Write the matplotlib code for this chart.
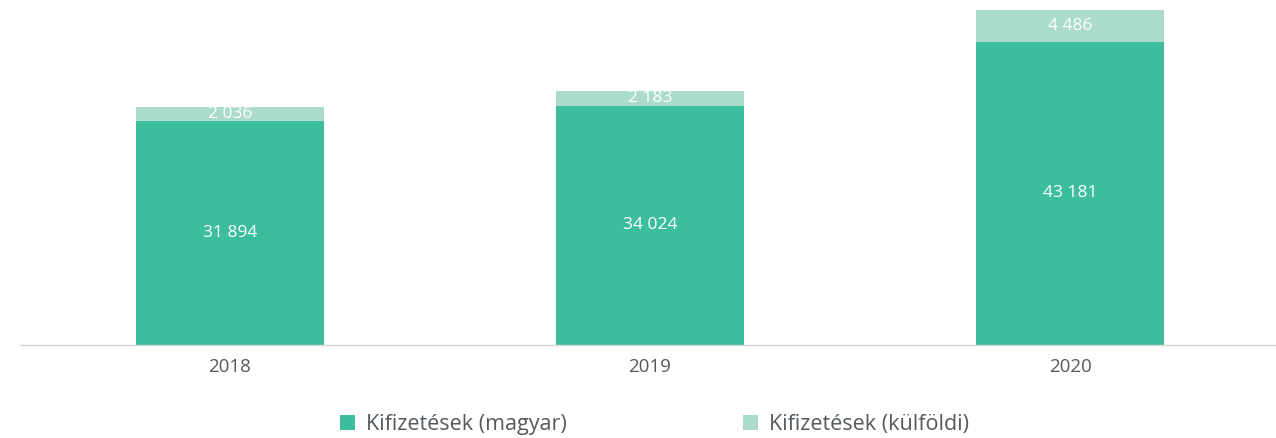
import numpy as np
import matplotlib.pyplot as plt

years = ["2018", "2019", "2020"]
magyar = [31894, 34024, 43181]
kulfoldi = [2036, 2183, 4486]

dark = "#3bbd9e"
light = "#aadbcb"

plt.rcParams["font.family"] = ["Open Sans", "DejaVu Sans"]

def fmt(v):
    return f"{v:,}".replace(",", " ")

fig = plt.figure(figsize=(12.76, 4.38), dpi=100)
ax = fig.add_axes([20 / 1276, 93 / 438, 1260 / 1276, 345 / 438])

x = np.arange(len(years))
w = 0.448
b1 = ax.bar(x, magyar, w, color=dark, label="Kifizetések (magyar)")
b2 = ax.bar(x, kulfoldi, w, bottom=magyar, color=light, label="Kifizetések (külföldi)")

for xi, m, k in zip(x, magyar, kulfoldi):
    ax.text(xi, m / 2, fmt(m), ha="center", va="center", color="white", fontsize=12.5)
    ax.text(xi, m + k / 2, fmt(k), ha="center", va="center", color="white", fontsize=12.5)

ax.set_xlim(-0.5, 2.5)
ax.set_ylim(0, 49090)
ax.set_xticks(x)
ax.set_xticklabels(years, fontsize=13.5, color="#555a5e")
ax.tick_params(axis="x", length=0, pad=9)
ax.set_yticks([])
for s in ["top", "right", "left"]:
    ax.spines[s].set_visible(False)
ax.spines["bottom"].set_color("#d4d6da")
ax.spines["bottom"].set_linewidth(1)

fig.legend(handles=[b1, b2], loc="center", bbox_to_anchor=(0.513, 0.03),
           ncol=2, frameon=False, fontsize=15.5, labelcolor="#555a5e",
           handlelength=0.7, handleheight=0.7, handletextpad=0.5,
           columnspacing=8.2)

fig.savefig("out.png", dpi=100)
